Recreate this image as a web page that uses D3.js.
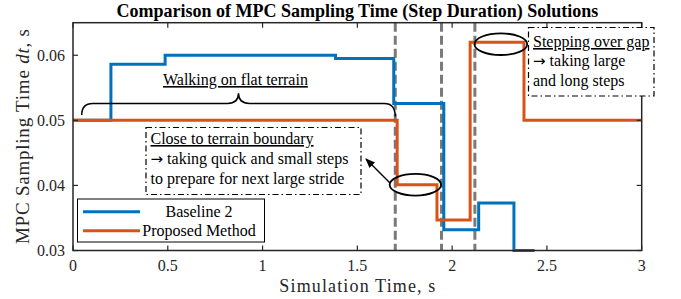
<!DOCTYPE html>
<html><head><meta charset="utf-8">
<script src="https://cdn.jsdelivr.net/npm/d3@7"></script>
<style>
body{margin:0;background:#fff;}
</style></head>
<body><svg id="c" width="681" height="299" font-family="'Liberation Serif', 'Times New Roman', Times, serif"></svg>
<script>
// ---- data ----
const blueT = [0, 0.2, 0.486, 1.385, 1.692, 1.956, 2.14, 2.326, 2.435];
const blueV = [0.05, 0.0586, 0.06, 0.0595, 0.0526, 0.0332, 0.0373, 0.030, 0.030];
const orangeT = [0, 1.71, 1.92, 2.095, 2.379, 3.0];
const orangeV = [0.05, 0.0401, 0.0347, 0.062, 0.05, 0.05];
const boundaryT = [1.70, 1.944, 2.12];
const xTicks = [0, 0.5, 1, 1.5, 2, 2.5, 3];
const yTicks = [0.03, 0.04, 0.05, 0.06];
const seriesNames = ["Baseline 2", "Proposed Method"];
const seriesColors = ["#0072BD", "#D95319"];

const SERIF = "'Liberation Serif', 'Times New Roman', Times, serif";
const svg = d3.select("#c");
const L = 73, R = 641.7, T = 22.7, B = 250.5;
const x = d3.scaleLinear().domain([0, 3]).range([L, R]);
const y = d3.scaleLinear().domain([0.03, 0.065]).range([B, T]);
const axisCol = "#262626";

function txt(sel) { return sel.append("text").attr("font-family", SERIF); }

// title
txt(svg).attr("x", (L + R) / 2).attr("y", 17).attr("text-anchor", "middle")
  .attr("font-weight", "bold").attr("font-size", 18).text("Comparison of MPC Sampling Time (Step Duration) Solutions");

// boundary dashed lines
svg.selectAll(".bnd").data(boundaryT).join("line")
  .attr("x1", d => x(d)).attr("x2", d => x(d)).attr("y1", T).attr("y2", B)
  .attr("stroke", "#7a7a7a").attr("stroke-width", 3).attr("stroke-dasharray", "9,4");

// lines
const line = d3.line().x(d => x(d[0])).y(d => y(d[1])).curve(d3.curveStepAfter);
svg.append("path").datum(blueT.map((t, i) => [t, blueV[i]])).attr("d", line)
  .attr("fill", "none").attr("stroke", seriesColors[0]).attr("stroke-width", 3);
svg.append("path").datum(orangeT.map((t, i) => [t, orangeV[i]])).attr("d", line)
  .attr("fill", "none").attr("stroke", seriesColors[1]).attr("stroke-width", 3);

// axes box
const g = svg.append("g");
g.append("rect").attr("x", L).attr("y", T).attr("width", R - L).attr("height", B - T)
  .attr("fill", "none").attr("stroke", axisCol).attr("stroke-width", 1.5);
const tl = 5;
xTicks.forEach(t => {
  g.append("line").attr("x1", x(t)).attr("x2", x(t)).attr("y1", B).attr("y2", B - tl).attr("stroke", axisCol).attr("stroke-width", 1.2);
  g.append("line").attr("x1", x(t)).attr("x2", x(t)).attr("y1", T).attr("y2", T + tl).attr("stroke", axisCol).attr("stroke-width", 1.2);
  txt(g).attr("x", x(t)).attr("y", 271).attr("text-anchor", "middle").attr("font-size", 16).attr("fill", axisCol).text(String(t));
});
yTicks.forEach(v => {
  g.append("line").attr("x1", L).attr("x2", L + tl).attr("y1", y(v)).attr("y2", y(v)).attr("stroke", axisCol).attr("stroke-width", 1.2);
  g.append("line").attr("x1", R).attr("x2", R - tl).attr("y1", y(v)).attr("y2", y(v)).attr("stroke", axisCol).attr("stroke-width", 1.2);
  txt(g).attr("x", 65).attr("y", y(v) + 5.5).attr("text-anchor", "end").attr("font-size", 16).attr("fill", axisCol).text(v.toFixed(2));
});

// axis labels
txt(svg).attr("x", (L + R) / 2).attr("y", 292).attr("text-anchor", "middle").attr("font-size", 18)
  .attr("fill", axisCol).attr("textLength", 156).text("Simulation Time, s");
const yl = txt(svg).attr("transform", `translate(29,${(T + B) / 2}) rotate(-90)`)
  .attr("text-anchor", "middle").attr("font-size", 19).attr("fill", axisCol).attr("textLength", 215);
yl.append("tspan").text("MPC Sampling Time ");
yl.append("tspan").attr("font-style", "italic").text("dt");
yl.append("tspan").text(", s");

// brace over flat-terrain walking
(function () {
  const x0 = x(0.046), x1 = x(1.7), xm = x(0.873);
  const yb = y(0.0526), ye = y(0.0508), yt = y(0.05415);
  const r = 11;
  const p = `M${x0},${ye} Q${x0},${yb} ${x0 + r},${yb} L${xm - r},${yb} Q${xm},${yb} ${xm},${yt} Q${xm},${yb} ${xm + r},${yb} L${x1 - r},${yb} Q${x1},${yb} ${x1},${ye + 1.5}`;
  svg.append("path").attr("d", p).attr("fill", "none").attr("stroke", "#000").attr("stroke-width", 1.5);
})();
txt(svg).attr("x", x(0.857)).attr("y", 85).attr("text-anchor", "middle").attr("font-size", 16)
  .attr("text-decoration", "underline").text("Walking on flat terrain");

function arrowLine(sel, xx, yy, rest) {
  const t = txt(sel).attr("x", xx).attr("y", yy).attr("font-size", 16);
  t.append("tspan").attr("font-family", "'DejaVu Sans', sans-serif").attr("font-size", 15).text("→");
  t.append("tspan").text(" " + rest);
  return t;
}

// annotation box 1
svg.append("rect").attr("x", 146).attr("y", 127.5).attr("width", 215).attr("height", 67)
  .attr("fill", "#fff").attr("stroke", "#000").attr("stroke-width", 1.2).attr("stroke-dasharray", "6,3,1.5,3");
txt(svg).attr("x", 150.5).attr("y", 144).attr("font-size", 16).attr("text-decoration", "underline").text("Close to terrain boundary");
arrowLine(svg, 150.5, 163.5, "taking quick and small steps");
txt(svg).attr("x", 150.5).attr("y", 183.5).attr("font-size", 16).text("to prepare for next large stride");

// ellipses
svg.append("ellipse").attr("cx", x(1.806)).attr("cy", y(0.0401)).attr("rx", 25.7).attr("ry", 10.8)
  .attr("fill", "none").attr("stroke", "#000").attr("stroke-width", 1.8);
svg.append("ellipse").attr("cx", x(2.257)).attr("cy", y(0.0617)).attr("rx", 26.3).attr("ry", 10.8)
  .attr("fill", "none").attr("stroke", "#000").attr("stroke-width", 1.8);

// arrow
svg.append("defs").append("marker").attr("id", "ah").attr("viewBox", "0 0 10 10").attr("refX", 9).attr("refY", 5)
  .attr("markerWidth", 7).attr("markerHeight", 7).attr("orient", "auto")
  .append("path").attr("d", "M0,1 L10,5 L0,9 z").attr("fill", "#000");
svg.append("line").attr("x1", 390).attr("y1", 183).attr("x2", 366).attr("y2", 159)
  .attr("stroke", "#000").attr("stroke-width", 1.4).attr("marker-end", "url(#ah)");

// annotation box 2
svg.append("rect").attr("x", 528.5).attr("y", 27.5).attr("width", 125.5).attr("height", 68.5)
  .attr("fill", "#fff").attr("stroke", "#000").attr("stroke-width", 1.2).attr("stroke-dasharray", "6,3,1.5,3");
txt(svg).attr("x", 533).attr("y", 47).attr("font-size", 16).attr("text-decoration", "underline").text("Stepping over gap");
arrowLine(svg, 533, 66, "taking large");
txt(svg).attr("x", 533).attr("y", 85.5).attr("font-size", 16).text("and long steps");

// legend
const lg = svg.append("g");
lg.append("rect").attr("x", 77.5).attr("y", 199).attr("width", 187).attr("height", 43)
  .attr("fill", "#fff").attr("stroke", "#000").attr("stroke-width", 1);
seriesNames.forEach((n, i) => {
  const yy = 211.7 + i * 19;
  lg.append("line").attr("x1", 83).attr("x2", 140).attr("y1", yy).attr("y2", yy).attr("stroke", seriesColors[i]).attr("stroke-width", 3);
  txt(lg).attr("x", 199).attr("y", yy + 5.5).attr("text-anchor", "middle").attr("font-size", 16).text(n);
});
</script></body></html>
